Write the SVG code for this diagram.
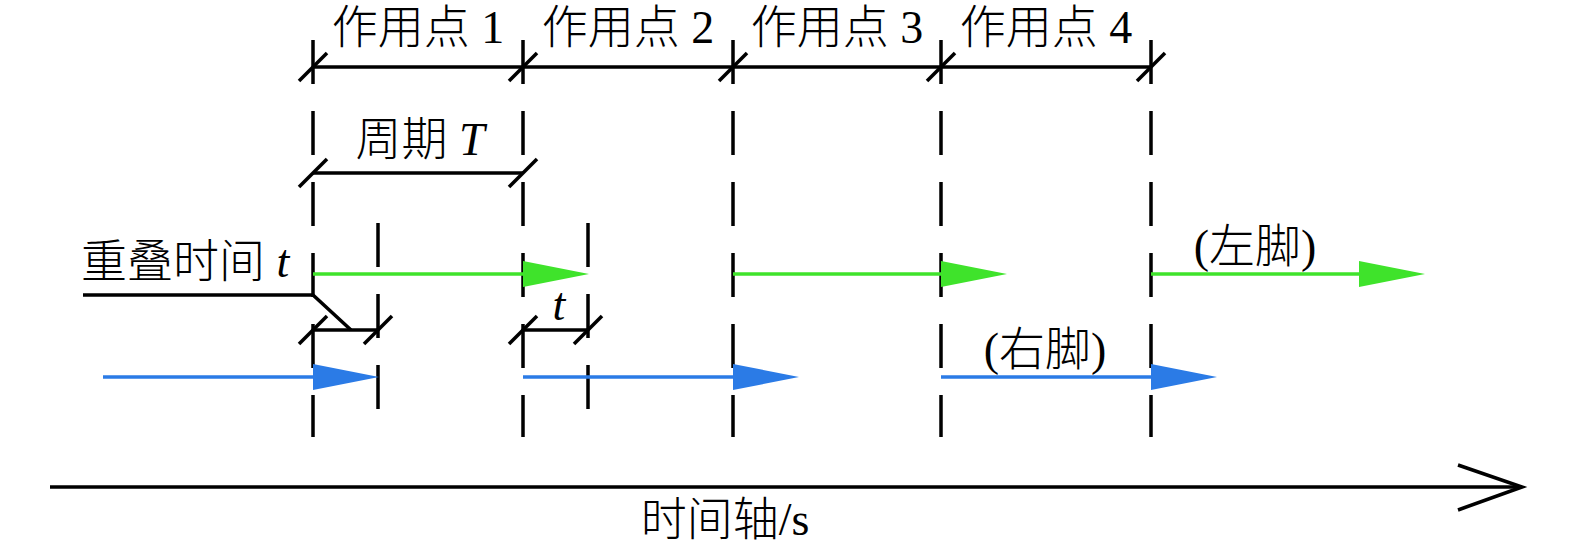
<svg xmlns="http://www.w3.org/2000/svg" width="1575" height="555" viewBox="0 0 1575 555">
<style>
.t{font-family:"Liberation Serif","Noto Sans CJK SC",serif;font-size:46px;font-weight:300;fill:#000}
.it{font-style:italic}
.dash{stroke:#000;stroke-width:3.5;stroke-dasharray:44 27;fill:none}
.dim{stroke:#000;stroke-width:3.5;fill:none;marker-start:url(#tick);marker-mid:url(#tick);marker-end:url(#tick)}
.g{stroke:#3FE32B;stroke-width:3.5;fill:none;marker-end:url(#ahg)}
.b{stroke:#2B7BE6;stroke-width:3.5;fill:none;marker-end:url(#ahb)}
</style>
<defs>
<marker id="tick" markerUnits="userSpaceOnUse" viewBox="-16 -16 32 32" markerWidth="32" markerHeight="32" refX="0" refY="0" orient="auto">
<line x1="-14" y1="14" x2="14" y2="-14" stroke="#000" stroke-width="3.5"/>
</marker>
<marker id="ahg" markerUnits="userSpaceOnUse" viewBox="0 -14 68 28" markerWidth="68" markerHeight="28" refX="0" refY="0" orient="auto">
<path d="M0,-13 L66,0 L0,13 Z" fill="#3FE32B"/>
</marker>
<marker id="ahb" markerUnits="userSpaceOnUse" viewBox="0 -14 68 28" markerWidth="68" markerHeight="28" refX="0" refY="0" orient="auto">
<path d="M0,-13 L66,0 L0,13 Z" fill="#2B7BE6"/>
</marker>
</defs>
<g id="guides">
<line class="dash" x1="313" y1="40" x2="313" y2="437"/>
<line class="dash" x1="523" y1="40" x2="523" y2="437"/>
<line class="dash" x1="733" y1="40" x2="733" y2="437"/>
<line class="dash" x1="941" y1="40" x2="941" y2="437"/>
<line class="dash" x1="1151" y1="40" x2="1151" y2="437"/>
<line class="dash" x1="378" y1="223" x2="378" y2="410"/>
<line class="dash" x1="588" y1="223" x2="588" y2="410"/>
</g>
<g id="connectors">
<polyline class="dim" points="313,67 523,67 733,67 941,67 1151,67"/>
<polyline class="dim" points="313,173 523,173"/>
<polyline class="dim" points="313,330 378,330"/>
<polyline class="dim" points="523,330 588,330"/>
<polyline points="83,295 313,295 351,330" stroke="#000" stroke-width="3.5" fill="none"/>
<line class="g" x1="313" y1="274" x2="523" y2="274"/>
<line class="g" x1="733" y1="274" x2="941" y2="274"/>
<line class="g" x1="1151" y1="274" x2="1359" y2="274"/>
<line class="b" x1="103" y1="377" x2="313" y2="377"/>
<line class="b" x1="523" y1="377" x2="733" y2="377"/>
<line class="b" x1="941" y1="377" x2="1151" y2="377"/>
<line x1="50" y1="487" x2="1520" y2="487" stroke="#000" stroke-width="3.5"/>
<polyline points="1458,465 1522,487 1458,510" stroke="#000" stroke-width="3.5" fill="none"/>
</g>
<g id="labels">
<text class="t" x="418" y="43" text-anchor="middle">作用点 1</text>
<text class="t" x="628" y="43" text-anchor="middle">作用点 2</text>
<text class="t" x="837" y="43" text-anchor="middle">作用点 3</text>
<text class="t" x="1046" y="43" text-anchor="middle">作用点 4</text>
<text class="t" x="420" y="155" text-anchor="middle">周期 <tspan class="it">T</tspan></text>
<text class="t" x="81" y="277">重叠时间 <tspan class="it">t</tspan></text>
<text class="t it" x="559" y="320" text-anchor="middle">t</text>
<text class="t" x="1255" y="262" text-anchor="middle">(左脚)</text>
<text class="t" x="1045" y="365" text-anchor="middle">(右脚)</text>
<text class="t" x="725" y="535" text-anchor="middle">时间轴/s</text>
</g>
</svg>
